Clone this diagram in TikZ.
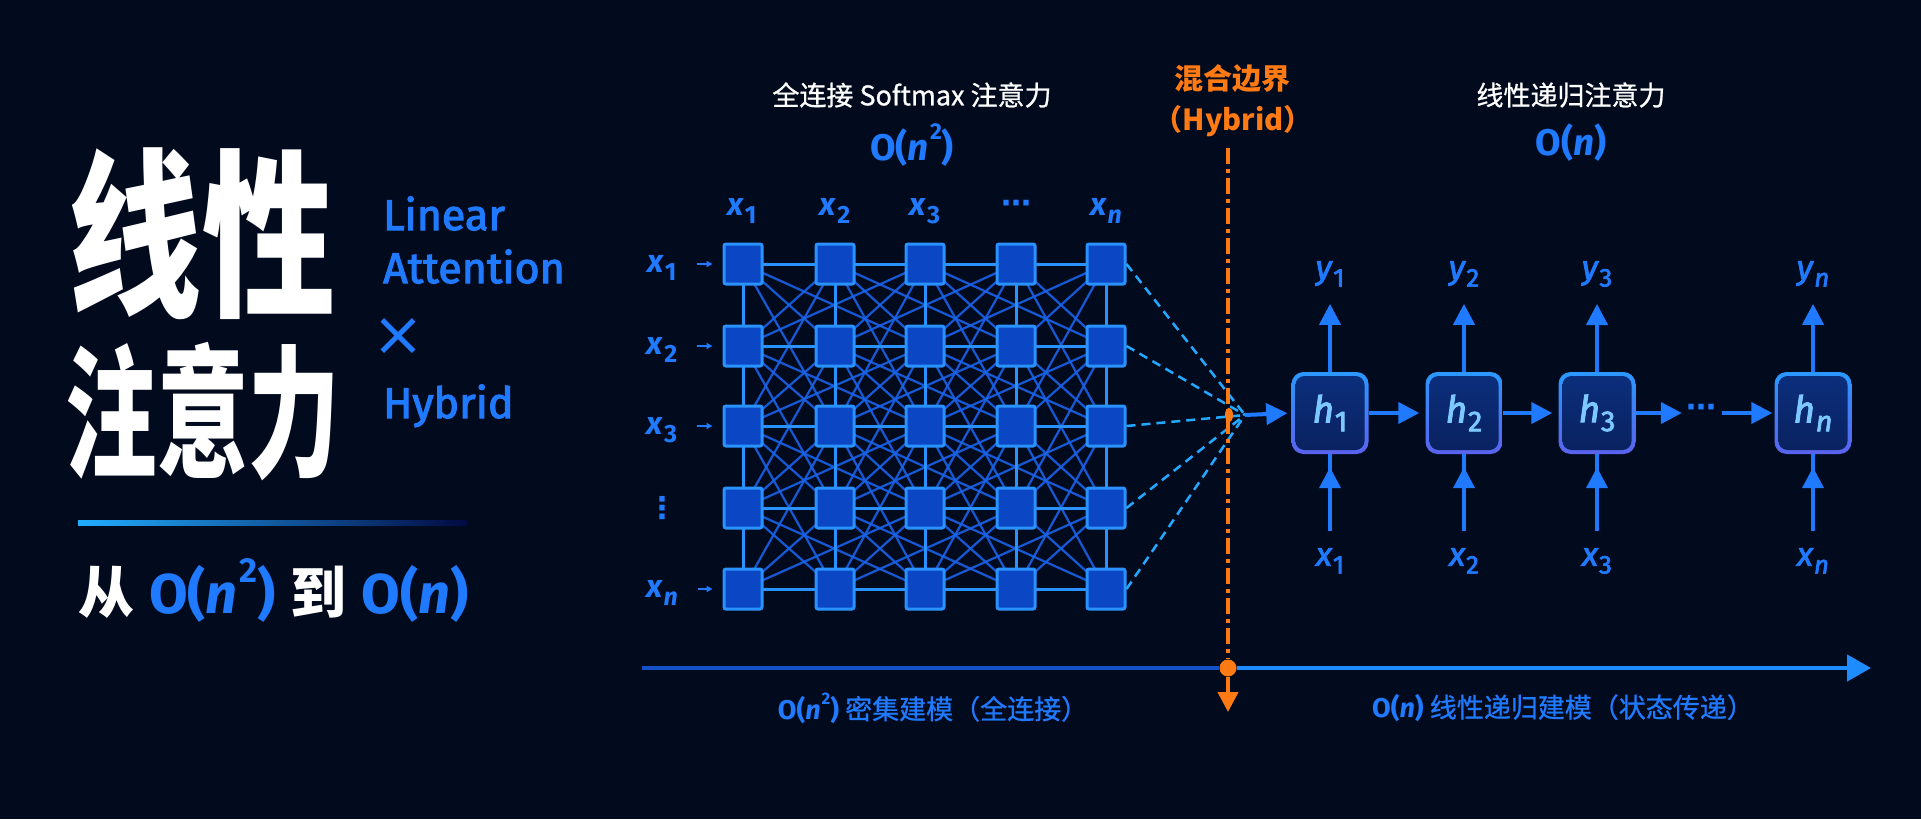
\documentclass[tikz,border=0pt]{standalone}
\usepackage{fontspec}
\setmainfont{Fira Sans}
\newfontfamily\firam[FakeBold=2.5]{Fira Sans}
\newfontfamily\cjk{Noto Sans CJK SC}
\newfontfamily\cjkm[FakeBold=0.8]{Noto Sans CJK SC}
\newfontfamily\dvs{DejaVu Sans}
\usetikzlibrary{arrows.meta,calc}
\pgfdeclarelayer{back}\pgfdeclarelayer{mid}
\pgfsetlayers{back,mid,main}
\definecolor{bgc}{HTML}{020B1E}
\definecolor{blu}{HTML}{1F7AFF}
\definecolor{gridc}{HTML}{2A92FF}
\definecolor{sqfill}{HTML}{0B47C4}
\definecolor{meshc}{HTML}{1A62E8}
\definecolor{fanc}{HTML}{22A8FF}
\definecolor{org}{HTML}{FF7A12}
\definecolor{hin1}{HTML}{0B2E7C}
\definecolor{hin2}{HTML}{0A2260}
\definecolor{hb1}{HTML}{2A98FF}
\definecolor{hb2}{HTML}{5A62EE}
\definecolor{hlab}{HTML}{7CC8FF}
\definecolor{axl}{HTML}{1450C8}
\definecolor{axr}{HTML}{1E8CFF}
\newcommand\fs[1]{\fontsize{#1}{#1}\selectfont}
\newcommand\lbl[2]{\textit{#1}\kern0.02em\raisebox{-0.24em}{\scalebox{0.78}{#2}}}
\newcommand\Osq{\textbf{O(\textit{n}\kern0.04em\raisebox{0.55em}{\scalebox{0.62}{2}})}}
\newcommand\Olin{\textbf{O(\textit{n})}}
\begin{document}
\begin{tikzpicture}[x=1pt,y=-1pt,
  sq/.style={draw=gridc,line width=3pt,fill=sqfill,minimum width=38pt,minimum height=40pt,inner sep=0pt,rounded corners=2pt},
  meshl/.style={draw=meshc,line width=2.2pt,opacity=0.9},
  gridl/.style={draw=gridc,line width=3pt},
  glab/.style={text=blu,font=\bfseries\fs{32},inner sep=0pt},
  rlab/.style={text=blu,font=\firam\fs{33},inner sep=0pt},
  fan/.style={draw=fanc,line width=2.5pt,dash pattern=on 9pt off 6pt},
  smallarr/.style={draw=blu,line width=1.5pt,-{Triangle[length=6pt,width=6pt]}},
  rarr/.style={draw=blu,line width=4pt,-{Triangle[length=21pt,width=21pt]}},
  rline/.style={draw=blu,line width=4pt},
  hbox/.style={rounded corners=12pt,top color=hb1,bottom color=hb2,minimum width=77pt,minimum height=82pt,inner sep=0pt},
  hin/.style={rounded corners=9pt,top color=hin1,bottom color=hin2,minimum width=69pt,minimum height=74pt,inner sep=0pt,text=hlab,font=\firam\fs{37}},
  odash/.style={draw=org,line width=4pt,dash pattern=on 16pt off 5pt on 4pt off 5pt},
  oarr/.style={draw=org,line width=4pt,-{Triangle[length=20pt,width=20pt]}},
]
\begin{pgfonlayer}{back}
\fill[bgc] (0,0) rectangle (1921,819);
\end{pgfonlayer}
\useasboundingbox (0,0) rectangle (1921,819);

% ---------- left titles ----------
\node[inner sep=0pt,text=white,font=\cjk\bfseries\fs{180}] (t1) at (202,234) {\scalebox{0.74}[1]{线性}};
\node[inner sep=0pt,text=white,font=\cjk\bfseries\fs{143}] (t2) at (203,412) {\scalebox{0.64}[1]{注意力}};
\node[anchor=base west,inner sep=0pt,text=blu,font=\firam\fs{43}] (en1) at (383,230) {Linear};
\node[anchor=base west,inner sep=0pt,text=blu,font=\firam\fs{43}] (en2) at (383,283) {Attention};
\node[inner sep=0pt,text=blu,font=\dvs\fs{62}] (en3) at (398,337) {×};
\node[anchor=base west,inner sep=0pt,text=blu,font=\firam\fs{43}] (en4) at (383,418) {Hybrid};
\shade[left color=hb1!80!cyan,right color=bgc!60!blue!40!bgc] (78,520.5) rectangle (467,525.5);
\node[anchor=base west,inner sep=0pt,text=white,font=\fs{56}] (sub) at (78,613)
  {{\cjk\bfseries 从} \textcolor{blu}{\Osq} {\cjk\bfseries 到} \textcolor{blu}{\Olin}};

% ---------- dense grid ----------
\node[inner sep=0pt,text=white,font=\cjkm\fs{27}] (ttl1) at (912,95) {全连接 Softmax 注意力};
\node[inner sep=0pt,text=blu,font=\fs{37}] (cx1) at (912,145) {\Osq};
\foreach \c/\x in {1/743,2/835,3/925,4/1016,5/1106}{
  \foreach \r/\y in {1/264,2/346,3/426,4/508,5/589}{
    \node[sq] (s\r\c) at (\x,\y) {};
  }
}
\node[glab] (c1) at (742,211) {\lbl{x}{1}};
\node[glab] (c2) at (835,211) {\lbl{x}{2}};
\node[glab] (c3) at (925,211) {\lbl{x}{3}};
\node[text=blu,inner sep=0pt,font=\dvs\bfseries\fs{30}] (c4) at (1016,207) {⋯};
\node[glab] (c5) at (1106,211) {\lbl{x}{\textit{n}}};
\node[glab] (r1) at (662,268) {\lbl{x}{1}};
\node[glab] (r2) at (662,350) {\lbl{x}{2}};
\node[glab] (r3) at (662,430) {\lbl{x}{3}};
\node[text=blu,inner sep=0pt,font=\dvs\bfseries\fs{30}] (r4) at (662,508) {⋮};
\node[glab] (r5) at (662,593) {\lbl{x}{\textit{n}}};
\foreach \r in {1,2,3,5}{
  \draw[smallarr,shorten <=20pt,shorten >=10pt] (r\r.east |- s\r1.west) -- (s\r1.west);
}
\begin{pgfonlayer}{mid}
\foreach \r in {1,...,4}{
  \pgfmathtruncatemacro\rr{\r+1}
  \foreach \c in {1,...,5}{
    \foreach \d in {-2,-1,1,2}{
      \pgfmathtruncatemacro\cc{\c+\d}
      \ifnum\cc>0 \ifnum\cc<6 \draw[meshl] (s\r\c.center) -- (s\rr\cc.center); \fi\fi
    }
  }
}
\foreach \r in {1,2,3}{
  \pgfmathtruncatemacro\rr{\r+2}
  \foreach \c in {1,...,5}{
    \foreach \d in {-1,1}{
      \pgfmathtruncatemacro\cc{\c+\d}
      \ifnum\cc>0 \ifnum\cc<6 \draw[meshl] (s\r\c.center) -- (s\rr\cc.center); \fi\fi
    }
  }
}
\foreach \r in {1,...,5}{
  \foreach \c in {1,...,4}{
    \pgfmathtruncatemacro\cc{\c+1}
    \draw[gridl] (s\r\c.center) -- (s\r\cc.center);
  }
}
\foreach \c in {1,...,5}{
  \foreach \r in {1,...,4}{
    \pgfmathtruncatemacro\rr{\r+1}
    \draw[gridl] (s\r\c.center) -- (s\rr\c.center);
  }
}
\end{pgfonlayer}

% ---------- hybrid boundary ----------
\coordinate (conv) at (1245,415);
\foreach \r in {1,...,5}{ \draw[fan] (s\r5.east) -- (conv); }
\node[inner sep=0pt,text=org,font=\cjk\bfseries\fs{29}] (hyb1) at (1232,79) {混合边界};
\node[inner sep=0pt,text=org,font=\cjk\bfseries\fs{29}] (hyb2) at (1233,121) {（Hybrid）};
\coordinate (otop) at (1228,148);
\node[circle,fill=org,minimum size=17pt,inner sep=0pt] (odot) at (1228,668) {};
\coordinate (obot) at (1228,712);
\draw[odash] (otop) -- (odot.north);
\draw[oarr] (odot.south) -- (obot);
\fill[org] (1229,415) ellipse [x radius=4pt, y radius=7pt];

% ---------- axis ----------
\coordinate (axL) at (642,668);
\coordinate (axR) at (1871,668);
\draw[draw=axl,line width=4.5pt] (axL) -- (odot.west);
\draw[draw=axr,line width=4.5pt,-{Triangle[length=24pt,width=26pt]}] (odot.east) -- (axR);
\node[inner sep=0pt,text=blu,font=\cjkm\fs{27}] (axlab1) at (933,708) {{\fontspec{Fira Sans}\Osq} 密集建模（全连接）};
\node[inner sep=0pt,text=blu,font=\cjkm\fs{27}] (axlab2) at (1563,708) {{\fontspec{Fira Sans}\Olin} 线性递归建模（状态传递）};

% ---------- recurrent chain ----------
\node[inner sep=0pt,text=white,font=\cjkm\fs{27}] (ttl2) at (1571,95) {线性递归注意力};
\node[inner sep=0pt,text=blu,font=\fs{37}] (cx2) at (1571,143) {\Olin};
\foreach \n/\x/\s in {1/1330/1,2/1464/2,3/1597/3,n/1813/\textit{n}}{
  \node[hbox] (h\n) at (\x,413) {};
  \node[hin] (h\n i) at (\x,413) {\lbl{h}{\s}};
  \node[rlab] (y\n) at (\x,274) {\lbl{y}{\s}};
  \node[rlab] (x\n) at (\x,561) {\lbl{x}{\s}};
  \draw[rarr,shorten >=17pt] (h\n.north) -- (y\n.south);
  \draw[rline,shorten <=17pt] (x\n.north) -- (h\n.south);
  \draw[rarr,shorten <=17pt] (x\n.north) -- ($(h\n.south)+(0,13)$);
}
\node[text=blu,inner sep=0pt,font=\dvs\bfseries\fs{30}] (hd) at (1701,411) {⋯};
\draw[rarr,shorten >=4pt] (conv) -- (h1.west);
\draw[rarr,shorten >=6pt] (h1.east) -- (h2.west);
\draw[rarr,shorten >=6pt] (h2.east) -- (h3.west);
\draw[rarr,shorten >=4pt] (h3.east) -- (hd.west |- h3.east);
\draw[rarr,shorten <=6pt,shorten >=2pt] (hd.east |- hn.west) -- (hn.west);
\end{tikzpicture}
\end{document}
